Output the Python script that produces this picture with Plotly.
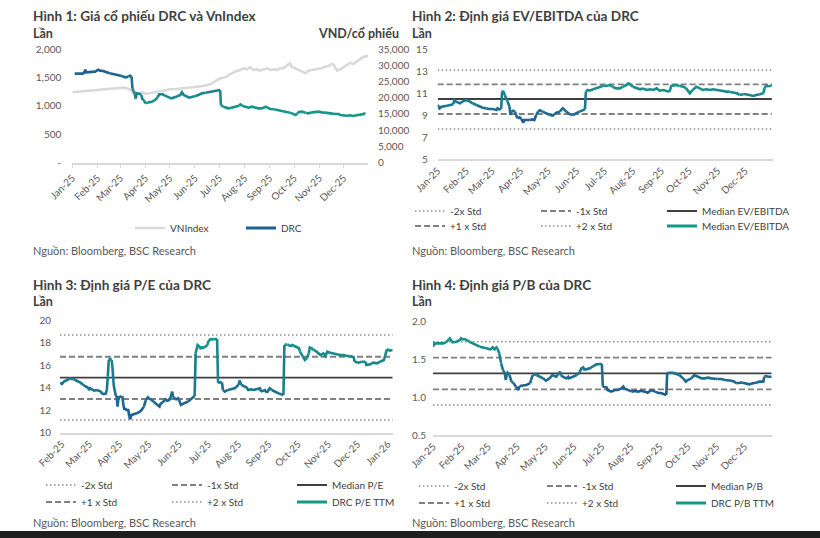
import plotly.graph_objects as go

W, H = 820, 538
FONT = "Lato, 'Open Sans', sans-serif"
BLUE = "#1f5a92"
TEAL = "#16978a"
TXT = "#404040"
TICK = "#595959"

# ---------------- Chart 1: DRC price vs VNIndex ----------------
vni_dates = ["2025-01-01","2025-01-10","2025-01-20","2025-01-31","2025-02-08","2025-02-16","2025-02-24","2025-03-05","2025-03-09","2025-03-13",
             "2025-03-15","2025-03-17","2025-03-19","2025-03-20","2025-03-22","2025-03-25","2025-03-29","2025-04-02","2025-04-06","2025-04-15",
             "2025-04-23","2025-05-01","2025-05-09","2025-05-18","2025-05-26","2025-06-03","2025-06-11","2025-06-20","2025-06-26","2025-07-02",
             "2025-07-06","2025-07-10","2025-07-14","2025-07-18","2025-07-22","2025-07-27","2025-07-31","2025-08-04","2025-08-08","2025-08-12",
             "2025-08-16","2025-08-20","2025-08-24","2025-08-29","2025-09-02","2025-09-06","2025-09-10","2025-09-14","2025-09-18","2025-09-22",
             "2025-09-26","2025-09-28","2025-10-03","2025-10-07","2025-10-11","2025-10-15","2025-10-19","2025-10-23","2025-10-27","2025-10-31",
             "2025-11-04","2025-11-08","2025-11-12","2025-11-17","2025-11-19","2025-11-21","2025-11-23","2025-11-27","2025-12-01","2025-12-05",
             "2025-12-09","2025-12-13","2025-12-17","2025-12-21","2025-12-26","2025-12-30","2025-12-31"]
vni_values = [1240,1252,1263,1269,1281,1299,1311,1322,1311,1299,
              1281,1222,1175,1104,1222,1234,1234,1210,1222,1240,
              1269,1293,1299,1311,1322,1340,1352,1381,1428,1487,
              1499,1517,1558,1587,1617,1634,1664,1646,1682,1634,
              1646,1623,1646,1664,1634,1646,1634,1664,1664,1705,
              1752,1693,1664,1634,1605,1576,1623,1634,1646,1646,
              1664,1693,1705,1740,1723,1664,1623,1646,1693,1723,
              1764,1740,1782,1823,1870,1882,1858]

drc_dates = ["2025-01-04","2025-01-15","2025-01-17","2025-01-18","2025-01-24","2025-01-29","2025-02-02","2025-02-04","2025-02-08","2025-02-16",
             "2025-02-24","2025-03-03","2025-03-07","2025-03-11","2025-03-13","2025-03-15","2025-03-16","2025-03-17","2025-03-19","2025-03-20",
             "2025-03-21","2025-03-23","2025-03-25","2025-03-27","2025-03-28","2025-03-30","2025-04-01","2025-04-04","2025-04-08","2025-04-12",
             "2025-04-16","2025-04-18","2025-04-22","2025-04-25","2025-04-29","2025-05-03","2025-05-07","2025-05-11","2025-05-14","2025-05-16",
             "2025-05-18","2025-05-21","2025-05-25","2025-05-29","2025-06-02","2025-06-06","2025-06-10","2025-06-14","2025-06-20","2025-06-24",
             "2025-06-28","2025-07-02","2025-07-03","2025-07-06","2025-07-10","2025-07-12","2025-07-16","2025-07-20","2025-07-25","2025-07-27",
             "2025-07-29","2025-08-02","2025-08-06","2025-08-10","2025-08-14","2025-08-18","2025-08-22","2025-08-27","2025-08-29","2025-09-02",
             "2025-09-06","2025-09-10","2025-09-14","2025-09-18","2025-09-22","2025-09-26","2025-09-30","2025-10-03","2025-10-05","2025-10-07",
             "2025-10-11","2025-10-15","2025-10-19","2025-10-23","2025-10-27","2025-10-31","2025-11-04","2025-11-08","2025-11-12","2025-11-17",
             "2025-11-21","2025-11-25","2025-11-27","2025-12-01","2025-12-05","2025-12-09","2025-12-13","2025-12-17","2025-12-21","2025-12-26",
             "2025-12-27"]
drc_prices = [27470,27470,28700,27880,27980,28090,28700,28400,28290,27570,
              27060,26750,26330,26540,26850,26540,22930,22210,21390,19740,
              21390,21390,21180,20870,19740,19330,18290,18600,18710,19120,
              20150,21080,21080,20670,20150,19840,20150,20560,20870,21700,
              20870,20560,20050,20360,20560,21080,21390,21590,21900,22110,
              22420,22420,17680,17260,16950,16750,16950,17260,17570,17990,
              17570,17260,16950,17260,16950,16750,16750,17260,16950,16540,
              16440,16230,16030,15920,15720,15410,15000,14690,15200,15610,
              15720,15410,15200,15510,15720,15720,15510,15410,15200,15100,
              15000,15000,14690,14480,14480,14580,14380,14580,14690,15000,
              15510]

# ---------------- Chart 2: EV/EBITDA ----------------
ev_days = ["01-01","01-03","01-05","01-10","01-16","01-18","01-19","01-21","01-25","01-28",
           "02-01","02-05","02-08","02-12","02-16","02-19","02-23","02-26","03-02","03-06",
           "03-07","03-09","03-11","03-12","03-13","03-15","03-17","03-18","03-20","03-21",
           "03-22","03-24","03-26","03-27","03-29","03-31","04-02","04-04","04-05","04-07",
           "04-11","04-14","04-16","04-18","04-20","04-22","04-25","04-29","05-03","05-06",
           "05-08","05-10","05-14","05-15","05-17","05-19","05-21","05-24","05-28","06-01",
           "06-04","06-08","06-10","06-11","06-13","06-15","06-19","06-22","06-26","06-30",
           "07-03","07-07","07-10","07-14","07-18","07-21","07-25","07-27","07-29","08-01",
           "08-05","08-09","08-12","08-16","08-20","08-23","08-27","08-30","09-03","09-06",
           "09-10","09-12","09-14","09-17","09-21","09-25","09-28","10-02","10-05","10-09",
           "10-13","10-16","10-20","10-24","10-27","10-31","11-03","11-07","11-11","11-14",
           "11-18","11-22","11-25","11-29","12-02","12-06","12-10","12-13","12-17","12-21",
           "12-22","12-24","12-26","12-28","12-30"]
ev_values = [9.94,9.63,9.78,9.85,9.94,10.0,10.39,10.24,10.09,10.24,
             10.39,10.24,10.09,9.94,9.78,9.69,9.63,9.57,9.57,9.48,
             9.63,9.54,9.60,11.15,11.24,10.85,10.39,10.24,9.78,9.03,
             9.33,9.42,9.33,9.03,8.72,8.82,8.66,8.33,8.57,8.57,
             8.57,8.63,8.57,9.03,9.33,9.45,9.33,9.18,9.03,8.97,
             9.12,9.24,9.33,9.48,9.63,9.48,9.33,9.12,9.03,9.18,
             9.33,9.48,9.54,11.15,11.30,11.24,11.36,11.45,11.60,11.69,
             11.66,11.75,11.60,11.45,11.45,11.60,11.75,11.91,11.82,11.60,
             11.45,11.36,11.45,11.30,11.36,11.30,11.45,11.24,11.30,11.24,
             11.15,11.75,11.69,11.75,11.66,11.60,11.45,11.00,11.30,11.60,
             11.45,11.30,11.36,11.30,11.36,11.30,11.24,11.24,11.15,11.15,
             11.09,11.00,10.85,10.91,10.91,10.85,10.76,10.85,10.91,11.00,
             11.45,11.75,11.60,11.69,11.66]
ev_dates = ["2025-" + d for d in ev_days]
ev_levels = [7.75, 9.12, 10.48, 11.82, 13.12]   # -2x, -1x, median, +1x, +2x
ev_labels = ["-2x Std", "-1x Std", "Median EV/EBITDA", "+1 x Std", "+2 x Std", "Median EV/EBITDA"]

# ---------------- Chart 3: P/E ----------------
pe_dates = ["2025-01-30","2025-02-01","2025-02-03","2025-02-06","2025-02-08","2025-02-09","2025-02-13","2025-02-16","2025-02-20","2025-02-23",
            "2025-02-27","2025-03-01","2025-03-02","2025-03-06","2025-03-09","2025-03-13","2025-03-14","2025-03-16","2025-03-18","2025-03-19",
            "2025-03-20","2025-03-21","2025-03-22","2025-03-24","2025-03-25","2025-03-26","2025-03-27","2025-03-28","2025-03-29","2025-03-30",
            "2025-03-31","2025-04-01","2025-04-02","2025-04-04","2025-04-05","2025-04-06","2025-04-07","2025-04-08","2025-04-10","2025-04-11",
            "2025-04-12","2025-04-13","2025-04-14","2025-04-16","2025-04-19","2025-04-21","2025-04-23","2025-04-26","2025-04-28","2025-04-30",
            "2025-05-01","2025-05-03","2025-05-06","2025-05-10","2025-05-12","2025-05-13","2025-05-15","2025-05-17","2025-05-18","2025-05-20",
            "2025-05-22","2025-05-23","2025-05-25","2025-05-26","2025-05-29","2025-05-31","2025-06-01","2025-06-03","2025-06-05","2025-06-06",
            "2025-06-10","2025-06-13","2025-06-15","2025-06-17","2025-06-18","2025-06-20","2025-06-22","2025-06-23","2025-06-25","2025-06-26",
            "2025-06-28","2025-06-30","2025-07-01","2025-07-03","2025-07-06","2025-07-10","2025-07-11","2025-07-13","2025-07-15","2025-07-16",
            "2025-07-18","2025-07-21","2025-07-25","2025-07-28","2025-08-01","2025-08-02","2025-08-04","2025-08-06","2025-08-09","2025-08-11",
            "2025-08-14","2025-08-16","2025-08-19","2025-08-23","2025-08-24","2025-08-28","2025-08-30","2025-09-02","2025-09-04","2025-09-07",
            "2025-09-11","2025-09-14","2025-09-16","2025-09-17","2025-09-20","2025-09-23","2025-09-25","2025-09-28","2025-10-02","2025-10-03",
            "2025-10-06","2025-10-08","2025-10-10","2025-10-12","2025-10-13","2025-10-15","2025-10-17","2025-10-20","2025-10-24","2025-10-27",
            "2025-10-29","2025-10-31","2025-11-03","2025-11-06","2025-11-10","2025-11-13","2025-11-17","2025-11-20","2025-11-23","2025-11-27",
            "2025-11-28","2025-12-02","2025-12-05","2025-12-09","2025-12-10","2025-12-14","2025-12-17","2025-12-21","2025-12-24","2025-12-28",
            "2025-12-29","2025-12-31","2026-01-02","2026-01-03","2026-01-06"]
pe_values = [14.44,14.32,14.53,14.62,14.74,14.82,14.74,14.62,14.44,14.23,
             14.03,13.85,13.94,13.73,13.79,13.64,13.49,13.43,13.49,13.79,
             14.97,16.45,16.54,16.45,15.56,14.23,13.79,13.35,13.26,12.31,
             13.14,13.20,13.20,13.14,12.46,12.01,12.16,12.01,12.01,11.42,
             11.19,11.57,11.57,11.66,11.72,11.87,11.95,12.31,12.90,13.14,
             13.05,12.96,12.75,12.46,12.31,12.55,12.66,12.84,12.96,12.84,
             12.90,13.05,13.64,13.14,12.96,13.05,12.90,12.46,12.55,12.61,
             12.75,12.96,13.14,13.26,17.04,17.78,17.63,17.49,17.57,17.55,
             17.63,17.78,18.08,18.28,18.31,18.31,14.44,14.44,14.47,13.79,
             13.64,13.79,13.88,13.94,14.23,14.62,14.23,14.14,14.03,13.79,
             13.85,13.79,13.88,13.94,13.64,13.79,13.55,13.94,13.79,13.64,
             13.49,13.40,13.35,17.78,17.84,17.69,17.78,17.63,17.49,17.19,
             16.75,16.45,16.60,17.04,17.57,17.49,17.34,17.19,16.89,17.04,
             16.81,17.19,17.10,17.04,16.98,16.89,16.89,16.81,16.81,16.69,
             16.30,16.21,16.30,16.30,16.01,16.07,16.21,16.16,16.30,16.45,
             16.75,17.40,17.34,17.28,17.34]
pe_levels = [11.13, 12.99, 14.88, 16.74, 18.67]
pe_labels = ["-2x Std", "-1x Std", "Median P/E", "+1 x Std", "+2 x Std", "DRC P/E TTM"]

# ---------------- Chart 4: P/B ----------------
pb_days = ["01-01","01-02","01-04","01-08","01-12","01-15","01-17","01-19","01-21","01-22",
           "01-26","01-28","01-30","01-31","02-02","02-04","02-06","02-07","02-09","02-13",
           "02-16","02-20","02-23","02-27","03-03","03-04","03-06","03-08","03-10","03-11",
           "03-13","03-15","03-17","03-19","03-20","03-21","03-22","03-24","03-26","03-28",
           "03-29","03-31","04-02","04-04","04-07","04-11","04-15","04-16","04-18","04-20",
           "04-22","04-25","04-29","05-02","05-06","05-09","05-13","05-15","05-17","05-18",
           "05-20","05-24","05-26","05-27","05-31","06-04","06-07","06-09","06-11","06-12",
           "06-14","06-18","06-21","06-25","06-29","07-01","07-02","07-06","07-07","07-11",
           "07-15","07-18","07-22","07-24","07-25","07-29","08-02","08-05","08-09","08-12",
           "08-16","08-19","08-23","08-27","08-30","09-03","09-06","09-08","09-09","09-11",
           "09-15","09-19","09-22","09-26","09-29","10-01","10-05","10-08","10-12","10-16",
           "10-19","10-23","10-26","10-30","11-02","11-06","11-10","11-13","11-17","11-20",
           "11-22","11-26","11-29","12-03","12-06","12-10","12-13","12-17","12-21","12-22",
           "12-24","12-26","12-30"]
pb_values = [1.735,1.691,1.713,1.713,1.713,1.727,1.757,1.780,1.744,1.727,
             1.735,1.749,1.757,1.780,1.766,1.771,1.757,1.744,1.735,1.713,
             1.691,1.669,1.656,1.647,1.634,1.638,1.660,1.634,1.660,1.647,
             1.581,1.449,1.360,1.316,1.228,1.294,1.325,1.294,1.206,1.193,
             1.175,1.140,1.096,1.149,1.153,1.162,1.184,1.228,1.294,1.307,
             1.294,1.272,1.250,1.219,1.250,1.294,1.272,1.303,1.338,1.294,
             1.272,1.250,1.272,1.250,1.272,1.294,1.325,1.382,1.396,1.369,
             1.369,1.382,1.404,1.435,1.440,1.440,1.140,1.131,1.096,1.074,
             1.096,1.096,1.118,1.140,1.118,1.096,1.074,1.082,1.074,1.087,
             1.074,1.060,1.096,1.074,1.060,1.052,1.038,1.029,1.316,1.325,
             1.325,1.307,1.294,1.250,1.206,1.228,1.250,1.294,1.272,1.250,
             1.250,1.259,1.250,1.250,1.241,1.241,1.228,1.228,1.219,1.206,
             1.184,1.193,1.193,1.184,1.171,1.184,1.193,1.206,1.206,1.272,
             1.281,1.272,1.272]
pb_dates = ["2025-" + d for d in pb_days]
pb_levels = [0.897, 1.104, 1.316, 1.524, 1.735]
pb_labels = ["-2x Std", "-1x Std", "Median P/B", "+1 x Std", "+2 x Std", "DRC P/B TTM"]

for a, b in [(vni_dates, vni_values), (drc_dates, drc_prices), (ev_dates, ev_values),
             (pe_dates, pe_values), (pb_dates, pb_values)]:
    assert len(a) == len(b), (len(a), len(b))

# ---------------- helpers ----------------
def rgb(h):
    h = h.lstrip("#")
    return [int(h[i:i + 2], 16) for i in (0, 2, 4)]

def mix(c1, c2, t):
    a, b = rgb(c1), rgb(c2)
    return "rgb(%d,%d,%d)" % tuple(round(a[i] + (b[i] - a[i]) * t) for i in range(3))

def add_gradient(fig, xs, ys, lo_col, hi_col, xa, ya, nlev=14, width=2.6, gamma=1.0):
    vmin, vmax = min(ys), max(ys)
    lev = []
    for i in range(len(ys) - 1):
        m = (ys[i] + ys[i + 1]) / 2
        t = (m - vmin) / (vmax - vmin)
        lev.append(min(nlev - 1, int(t * nlev)))
    s = 0
    for i in range(1, len(lev) + 1):
        if i == len(lev) or lev[i] != lev[s]:
            col = mix(lo_col, hi_col, ((lev[s] + 0.5) / nlev) ** gamma)
            fig.add_trace(go.Scatter(x=xs[s:i + 1], y=ys[s:i + 1], mode="lines",
                                     line=dict(color=col, width=width),
                                     xaxis=xa, yaxis=ya, showlegend=False, hoverinfo="skip"))
            s = i

legends = {}
def new_legend(xpx, ypx):
    k = len(legends) + 1
    key = "legend" if k == 1 else "legend%d" % k
    legends[key] = dict(x=(xpx - 5) / W, y=1 - ypx / H, xanchor="left", yanchor="middle",
                        orientation="v", bgcolor="rgba(0,0,0,0)", borderwidth=0,
                        font=dict(size=10, color=TXT, family=FONT),
                        itemclick=False, itemdoubleclick=False)
    return key

BAND_STYLE = [dict(color="#8c8c8c", width=1.6, dash="1.5px,2.5px"),
              dict(color="#808080", width=1.8, dash="6px,3px"),
              dict(color="#3f3f3f", width=1.8),
              dict(color="#808080", width=1.8, dash="6px,3px"),
              dict(color="#8c8c8c", width=1.6, dash="1.5px,2.5px")]
SLOT = [(0, 0), (1, 0), (2, 0), (0, 1), (1, 1), (2, 1)]

fig = go.Figure()

def valuation_chart(xs, ys, levels, labels, xa, ya, cols, rows):
    for i, lv in enumerate(levels):
        c, r = SLOT[i]
        fig.add_trace(go.Scatter(x=[xs[0], xs[-1]], y=[lv, lv], mode="lines", name=labels[i],
                                 line=BAND_STYLE[i], xaxis=xa, yaxis=ya, hoverinfo="skip",
                                 legend=new_legend(cols[c], rows[r])))
    add_gradient(fig, xs, ys, BLUE, TEAL, xa, ya)
    c, r = SLOT[5]
    fig.add_trace(go.Scatter(x=[None], y=[None], mode="lines", name=labels[5],
                             line=dict(color=TEAL, width=3), xaxis=xa, yaxis=ya,
                             legend=new_legend(cols[c], rows[r])))

# Chart 1
fig.add_trace(go.Scatter(x=vni_dates, y=vni_values, mode="lines", name="VNIndex",
                         line=dict(color="#d9d9d9", width=2.6), xaxis="x", yaxis="y",
                         hoverinfo="skip", legend=new_legend(135, 228)))
add_gradient(fig, drc_dates, drc_prices, TEAL, BLUE, "x", "y2", gamma=1.7)
fig.add_trace(go.Scatter(x=[None], y=[None], mode="lines", name="DRC",
                         line=dict(color="#1f6090", width=3), xaxis="x", yaxis="y2",
                         legend=new_legend(246, 228)))

valuation_chart(ev_dates, ev_values, ev_levels, ev_labels, "x2", "y3", [415, 541, 667], [211, 226])
valuation_chart(pe_dates, pe_values, pe_levels, pe_labels, "x3", "y4", [46, 172, 297], [485, 502])
valuation_chart(pb_dates, pb_values, pb_levels, pb_labels, "x4", "y5", [419, 547, 676], [486, 503])

# ---------------- axes ----------------
def xdom(a, b):
    return [a / W, b / W]

def ydom(bottom, top):
    return [1 - bottom / H, 1 - top / H]

tickfont = dict(size=10, color=TICK, family=FONT)

def xaxis(domain, rng, tick0, anchor, ticks=""):
    return dict(domain=domain, range=rng, type="date", tick0=tick0, dtick="M1",
                tickformat="%b-%y", tickangle=-45, tickfont=tickfont, showgrid=False,
                zeroline=False, showline=True, linecolor="#d9d9d9", linewidth=1.5,
                ticks=ticks, ticklen=4, tickcolor="#d9d9d9", anchor=anchor, fixedrange=True,
                automargin=False)

def yaxis(domain, rng, anchor, standoff, **kw):
    d = dict(domain=domain, range=rng, showgrid=False, zeroline=False, showline=False,
             tickfont=tickfont, anchor=anchor, ticklabelstandoff=standoff, fixedrange=True,
             automargin=False)
    d.update(kw)
    return d

layout = dict(
    width=W, height=H, margin=dict(l=0, r=0, t=0, b=0, pad=0, autoexpand=False),
    paper_bgcolor="white", plot_bgcolor="white",
    font=dict(family=FONT, color=TXT), showlegend=True,
    xaxis=xaxis(xdom(72.3, 368), ["2025-01-01", "2025-12-31"], "2025-01-01", "y", ticks="outside"),
    yaxis=yaxis(ydom(162.5, 49.3), [0, 2000], "x", 10,
                tickvals=[0, 500, 1000, 1500, 2000], ticktext=["-", "500", "1,000", "1,500", "2,000"]),
    yaxis2=yaxis(ydom(162.5, 49.3), [0, 35000], "x", 9, overlaying="y", side="right",
                 tickvals=[0, 5000, 10000, 15000, 20000, 25000, 30000, 35000], tickformat=","),
    xaxis2=xaxis(xdom(437.7, 772.7), ["2025-01-01", "2025-12-31"], "2025-01-01", "y3"),
    yaxis3=yaxis(ydom(159.3, 49.3), [5, 15], "x2", 9, tickvals=[5, 7, 9, 11, 13, 15]),
    xaxis3=xaxis(xdom(60, 392.7), ["2025-01-30", "2026-01-06"], "2025-02-01", "y4"),
    yaxis4=yaxis(ydom(432.7, 320), [10, 20], "x3", 8, tickvals=[10, 12, 14, 16, 18, 20]),
    xaxis4=xaxis(xdom(433, 771.7), ["2025-01-01", "2025-12-30"], "2025-01-01", "y5"),
    yaxis5=yaxis(ydom(435, 321.7), [0.5, 2.0], "x4", 6, tickvals=[0.5, 1.0, 1.5, 2.0], tickformat=".1f"),
)
layout.update(legends)

def note(xpx, ypx, s, size, bold=False, color=TXT, xanchor="left"):
    return dict(x=xpx / W, y=1 - ypx / H, xref="paper", yref="paper",
                text=("<b>%s</b>" % s) if bold else s, showarrow=False,
                xanchor=xanchor, yanchor="middle", font=dict(size=size, color=color, family=FONT))

TS = 13.6   # title size
SS = 12.5   # sub-title size
NS = 11     # source note size
layout["annotations"] = [
    note(31, 16, "Hình 1: Giá cổ phiếu DRC và VnIndex", TS, True),
    note(31, 33, "Lần", SS, True),
    note(401, 33, "VND/cổ phiếu", SS, True, xanchor="right"),
    note(31, 250, "Nguồn: Bloomberg, BSC Research", NS, color=TICK),
    note(410, 16, "Hình 2: Định giá EV/EBITDA của DRC", TS, True),
    note(410, 33, "Lần", SS, True),
    note(410, 250, "Nguồn: Bloomberg, BSC Research", NS, color=TICK),
    note(31, 285, "Hình 3: Định giá P/E của DRC", TS, True),
    note(31, 301, "Lần", SS, True),
    note(31, 522, "Nguồn: Bloomberg, BSC Research", NS, color=TICK),
    note(410, 285, "Hình 4: Định giá P/B của DRC", TS, True),
    note(410, 301, "Lần", SS, True),
    note(410, 522, "Nguồn: Bloomberg, BSC Research", NS, color=TICK),
]
layout["shapes"] = [dict(type="rect", xref="paper", yref="paper", x0=0, x1=1, y0=0, y1=7 / H,
                         fillcolor="#1e1e1e", line=dict(width=0), layer="above")]

fig.update_layout(**layout)
fig.write_html("out.html")
